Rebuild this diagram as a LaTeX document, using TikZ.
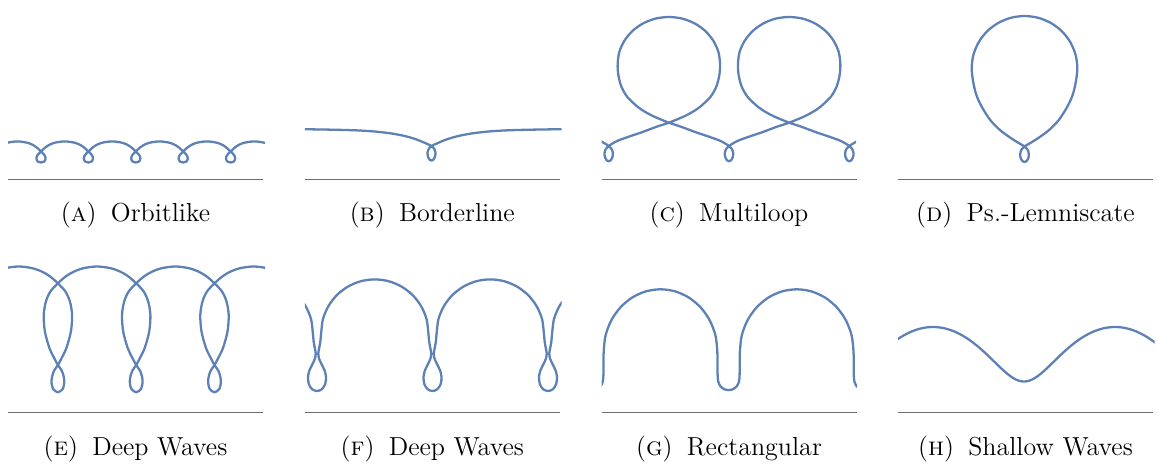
\documentclass[tikz,border=0pt]{standalone}
\usepackage{tikz}

\definecolor{curveblue}{RGB}{94,129,181}
\definecolor{groundgray}{RGB}{110,110,110}

\newcommand\drawcurve[1]{\edef\curvecmd{\noexpand\draw[elastic] plot[smooth] coordinates {#1};}\curvecmd}

\begin{document}
\begin{tikzpicture}[x=0.48pt, y=-0.48pt,
  elastic/.style={draw=curveblue, line width=1.1pt, line join=round},
  ground/.style={draw=groundgray, line width=0.5pt},
  subcap/.style={anchor=base, inner sep=0pt, font=\fontsize{12.5}{14}\selectfont},
]
\useasboundingbox (0,0) rectangle (1157,466);

% ground lines
\draw[ground] (8,179.3) -- (263,179.3);
\draw[ground] (304.8,179.3) -- (559.8,179.3);
\draw[ground] (601.5,179.3) -- (856.5,179.3);
\draw[ground] (898,179.3) -- (1153,179.3);
\draw[ground] (8,412.3) -- (263,412.3);
\draw[ground] (304.8,412.3) -- (559.8,412.3);
\draw[ground] (601.5,412.3) -- (856.5,412.3);
\draw[ground] (898,412.3) -- (1153,412.3);

% (a) orbitlike
\begin{scope}
\clip (8,0) rectangle (265,200);
\gdef\crvpts{}
\foreach \ctr in {-6.4,41,88.4,135.8,183.2,230.6,278}{
  \xdef\crvpts{\crvpts (\ctr-23.7,141.4) (\ctr-13,142.9) (\ctr-7,145.6) (\ctr-3,148.6) (\ctr,151.5)
    (\ctr+3.4,155) (\ctr+4.6,158.4) (\ctr+3.2,161.6) (\ctr,162.5) (\ctr-3.2,161.6) (\ctr-4.6,158.4)
    (\ctr-3.4,155) (\ctr,151.5) (\ctr+3,148.6) (\ctr+7,145.6) (\ctr+13,142.9)}
}
\drawcurve{\crvpts}
\end{scope}

% (b) borderline
\begin{scope}
\clip (304.8,0) rectangle (561.5,200);
\draw[elastic] plot[smooth] coordinates {(301.5,129.2) (321.5,129.5) (341.5,129.9) (359.5,130.5)
  (375.5,131.6) (389.5,133.2) (401.5,135.3) (411.5,137.8) (419.5,140.6) (426,143.4) (431.5,146)
  (434.5,149.3) (435.6,153) (435,156.8) (433.5,159.6) (431.5,160.6) (429.5,159.6) (428,156.8)
  (427.4,153) (428.5,149.3) (431.5,146) (437,143.4) (443.5,140.6) (451.5,137.8) (461.5,135.3)
  (473.5,133.2) (487.5,131.6) (503.5,130.5) (521.5,129.9) (541.5,129.5) (561.5,129.2)};
\end{scope}

% (c) multiloop
\begin{scope}
\clip (601.5,0) rectangle (856,200);
\gdef\crvpts{}
\foreach \ctr in {488.4,608.7,729,849.3,969.6}{
  \xdef\crvpts{\crvpts (\ctr,146) (\ctr+3,149.2) (\ctr+4.2,153.2) (\ctr+3.7,157.3) (\ctr+2.1,160.3)
    (\ctr,161.3) (\ctr-2.1,160.3) (\ctr-3.7,157.3) (\ctr-4.2,153.2) (\ctr-3,149.2) (\ctr,146)
    (\ctr+4,143.4) (\ctr+9.5,140.5) (\ctr+22.6,135.8) (\ctr+31.4,132.9) (\ctr+48,126.7)
    (\ctr+60.15,122.7) (\ctr+75.15,116.5) (\ctr+83.65,112) (\ctr+91.15,107) (\ctr+101.65,97)
    (\ctr+107.65,86.5) (\ctr+110.65,75) (\ctr+111.35,64) (\ctr+109.65,51.8) (\ctr+104.45,40.5)
    (\ctr+96.35,30.8) (\ctr+85.75,23.3) (\ctr+73.45,18.6) (\ctr+60.15,17) (\ctr+46.85,18.6)
    (\ctr+34.55,23.3) (\ctr+23.95,30.8) (\ctr+15.85,40.5) (\ctr+10.65,51.8) (\ctr+8.95,64)
    (\ctr+9.65,75) (\ctr+12.65,86.5) (\ctr+18.65,97) (\ctr+29.15,107) (\ctr+36.65,112)
    (\ctr+45.15,116.5) (\ctr+60.15,122.7) (\ctr+72.25,126.7) (\ctr+88.9,132.9) (\ctr+97.7,135.8)
    (\ctr+110.8,140.5) (\ctr+116.3,143.4)}
}
\drawcurve{\crvpts}
\end{scope}

% (d) pseudo-lemniscate
\draw[elastic] plot[smooth cycle] coordinates {(1024.5,146.5) (1031.5,142.3) (1039,137.5)
  (1048.5,130.5) (1058,121) (1066,109) (1072.3,96) (1075.8,82) (1077.3,68) (1075.5,54.5)
  (1070.2,42) (1061.8,31.2) (1050.9,23) (1038.2,17.8) (1024.5,16) (1010.8,17.8) (998.1,23)
  (987.2,31.2) (978.8,42) (973.5,54.5) (971.7,68) (973.2,82) (976.7,96) (983,109) (991,121)
  (1000.5,130.5) (1010,137.5) (1017.5,142.3) (1024.5,146.5) (1027.8,150.2) (1028.8,154.5)
  (1028.2,158.6) (1026.6,161.1) (1024.5,162) (1022.4,161.1) (1020.8,158.6) (1020.2,154.5)
  (1021.2,150.2)};

% (e) deep waves
\begin{scope}
\clip (8,240) rectangle (265,440);
\gdef\crvpts{}
\foreach \ctr in {-20.4,57.9,136.2,214.5,292.8}{
  \xdef\crvpts{\crvpts (\ctr-39.15,266.5) (\ctr-26,268.1) (\ctr-16,271.6) (\ctr-8,276.3) (\ctr,283.3)
    (\ctr+7.5,291.5) (\ctr+12,301.5) (\ctr+14.2,315) (\ctr+13,331.5) (\ctr+8.5,348) (\ctr+3,359.5)
    (\ctr,365) (\ctr-4,371) (\ctr-6,377.5) (\ctr-6.3,383) (\ctr-4.8,389) (\ctr,392.3) (\ctr+4.8,389)
    (\ctr+6.3,383) (\ctr+6,377.5) (\ctr+4,371) (\ctr,365) (\ctr-3,359.5) (\ctr-8.5,348)
    (\ctr-13,331.5) (\ctr-14.2,315) (\ctr-12,301.5) (\ctr-7.5,291.5) (\ctr,283.3) (\ctr+8,276.3)
    (\ctr+16,271.6) (\ctr+26,268.1)}
}
\drawcurve{\crvpts}
\end{scope}

% (f) deep waves
\begin{scope}
\clip (304.8,240) rectangle (561.5,440);
\gdef\crvpts{}
\foreach \ctr in {317,432.5,548,663.5}{
  \xdef\crvpts{\crvpts (\ctr-57.75,279.4) (\ctr-43.85,281.2) (\ctr-30.95,286.6) (\ctr-19.85,295.1)
    (\ctr-11.35,306.2) (\ctr-5.95,319.1) (\ctr-4.15,333) (\ctr-3.3,342) (\ctr-2.1,348.5)
    (\ctr-1.3,353.5) (\ctr-2,358.5) (\ctr-4.5,364) (\ctr-7.6,370.5) (\ctr-9,377) (\ctr-8.2,384)
    (\ctr-4.9,389.2) (\ctr,391) (\ctr+4.9,389.2) (\ctr+8.2,384) (\ctr+9,377) (\ctr+7.6,370.5)
    (\ctr+4.5,364) (\ctr+2,358.5) (\ctr+1.3,353.5) (\ctr+2.1,348.5) (\ctr+3.3,342) (\ctr+4.15,333)
    (\ctr+5.95,319.1) (\ctr+11.35,306.2) (\ctr+19.85,295.1) (\ctr+30.95,286.6) (\ctr+43.85,281.2)}
}
\drawcurve{\crvpts}
\end{scope}

% (g) rectangular
\begin{scope}
\clip (601.5,240) rectangle (857,440);
\gdef\crvpts{}
\foreach \ctr in {592.4,728.6,864.8}{
  \xdef\crvpts{\crvpts (\ctr-68.1,289.3) (\ctr-53.4,291.4) (\ctr-39.7,297.6) (\ctr-27.9,307.5)
    (\ctr-18.9,320.3) (\ctr-13.2,335.3) (\ctr-11.3,351.3) (\ctr-11.1,366) (\ctr-11,375)
    (\ctr-10.4,381.5) (\ctr-8.2,386.2) (\ctr-4.5,389.2) (\ctr,390) (\ctr+4.5,389.2) (\ctr+8.2,386.2)
    (\ctr+10.4,381.5) (\ctr+11,375) (\ctr+11.1,366) (\ctr+11.3,351.3) (\ctr+13.2,335.3)
    (\ctr+18.9,320.3) (\ctr+27.9,307.5) (\ctr+39.7,297.6) (\ctr+53.4,291.4)}
}
\drawcurve{\crvpts}
\end{scope}

% (h) shallow waves
\begin{scope}
\clip (898,240) rectangle (1154.5,440);
\draw[elastic] plot[domain=-4.8:5, samples=140, variable=\t]
  ({1024+28.97*(\t-0.28*sin(\t r))}, {354.25+27.25*cos(\t r)});
\end{scope}

% captions
\node[subcap] (capa) at (135.5,222) {(\textsc{a})\hspace{0.55em}Orbitlike};
\node[subcap] (capb) at (432.3,222) {(\textsc{b})\hspace{0.55em}Borderline};
\node[subcap] (capc) at (729,222) {(\textsc{c})\hspace{0.55em}Multiloop};
\node[subcap] (capd) at (1025.5,222) {(\textsc{d})\hspace{0.55em}Ps.-Lemniscate};
\node[subcap] (cape) at (135.5,455) {(\textsc{e})\hspace{0.55em}Deep Waves};
\node[subcap] (capf) at (432.3,455) {(\textsc{f})\hspace{0.55em}Deep Waves};
\node[subcap] (capg) at (729,455) {(\textsc{g})\hspace{0.55em}Rectangular};
\node[subcap] (caph) at (1025.5,455) {(\textsc{h})\hspace{0.55em}Shallow Waves};
\end{tikzpicture}
\end{document}
